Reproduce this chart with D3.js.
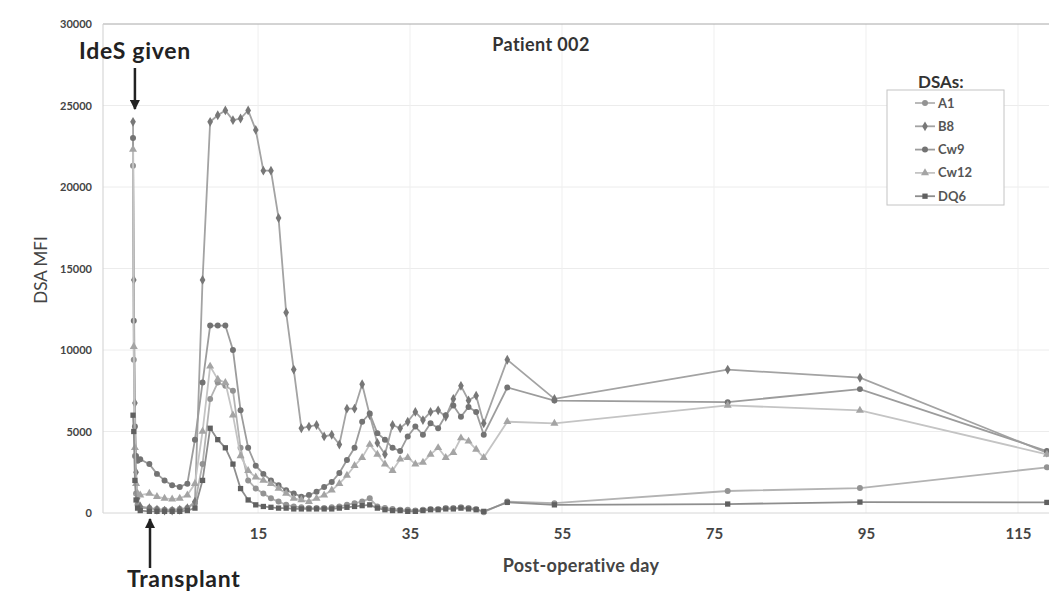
<!DOCTYPE html>
<html>
<head>
<meta charset="utf-8">
<script src="https://cdn.jsdelivr.net/npm/d3@7"></script>
<style>
  body { margin: 0; background: #fff; }
  svg { display: block; font-family: Lato, 'Open Sans', sans-serif; }
</style>
</head>
<body>
<svg id="chart" width="1049" height="598"></svg>
<script>
// sampling days (post-operative), shared by all DSAs
const days = [-1.45, -1.35, -1.2, -1.05, -0.85, -0.5,
  0.7, 1.7, 2.7, 3.7, 4.7, 5.7, 6.7, 7.7, 8.7, 9.7,
  10.7, 11.7, 12.7, 13.7, 14.7, 15.7, 16.7, 17.7, 18.7, 19.7,
  20.7, 21.7, 22.7, 23.7, 24.7, 25.7, 26.7, 27.7, 28.7, 29.7,
  30.7, 31.7, 32.7, 33.7, 34.7, 35.7, 36.7, 37.7, 38.7, 39.7,
  40.7, 41.7, 42.7, 43.7, 44.7,
  47.8, 54.0, 76.8, 94.2, 118.8];

const a1 = [21300, 9400, 3500, 1200, 500, 300,
  300, 250, 200, 200, 250, 300, 600, 3000, 7000, 8000,
  7800, 7500, 4000, 2000, 1500, 1200, 900, 700, 500, 400,
  350, 300, 300, 300, 350, 400, 500, 600, 700, 900,
  400, 300, 250, 200, 200, 150, 200, 250, 250, 300,
  300, 350, 300, 250, 50,
  700, 600, 1350, 1530, 2800];

const b8 = [24000, 14300, 6750, 2500, 900, 400,
  300, 200, 150, 150, 200, 300, 700, 14300, 24000, 24400,
  24700, 24100, 24200, 24700, 23500, 21000, 21000, 18100, 12300, 8800,
  5200, 5300, 5400, 4700, 4800, 4200, 6400, 6400, 7900, 6000,
  4300, 3600, 5400, 5200, 5600, 6200, 5700, 6200, 6300, 5900,
  7000, 7800, 6900, 7200, 5500,
  9400, 7000, 8800, 8300, 3700];

const cw9 = [23000, 11800, 5300, 3500, 3200, 3300,
  3000, 2400, 2000, 1700, 1600, 1800, 4500, 8000, 11500, 11500,
  11500, 10000, 6300, 4000, 2900, 2400, 2000, 1700, 1400, 1200,
  1000, 1100, 1300, 1600, 1900, 2450, 3250, 4000, 5600, 6100,
  4900, 4500, 4000, 3800, 4700, 5300, 4800, 5500, 5200, 6000,
  6600, 5900, 6500, 6200, 4800,
  7700, 6900, 6800, 7600, 3800];

const cw12 = [22300, 10200, 4000, 1800, 1200, 1100,
  1200, 1000, 900, 850, 900, 1100, 1800, 5000, 9000, 8200,
  8000, 6000, 3500, 2600, 2200, 2000, 1800, 1500, 1200, 900,
  800, 700, 900, 1100, 1400, 1800, 2300, 2900, 3400, 4200,
  3600, 3000, 2600, 3300, 3400, 3000, 3100, 3600, 4000, 3400,
  3700, 4600, 4400, 3900, 3400,
  5600, 5500, 6600, 6300, 3600];

const dq6 = [6000, 5000, 2000, 800, 300, 150,
  100, 100, 100, 100, 100, 150, 300, 2000, 5200, 4500,
  4000, 3000, 1500, 800, 500, 400, 350, 300, 300, 250,
  250, 250, 250, 250, 250, 300, 350, 400, 450, 500,
  300, 200, 150, 150, 100, 100, 150, 200, 200, 250,
  250, 300, 250, 200, 100,
  650, 500, 550, 670, 650];

const seriesNames = ['A1', 'B8', 'Cw9', 'Cw12', 'DQ6'];
const seriesValues = [a1, b8, cw9, cw12, dq6];
const xTicks = [15, 35, 55, 75, 95, 115];
const yTicks = [0, 5000, 10000, 15000, 20000, 25000, 30000];

// grey shades, one per DSA (line, marker, symbol)
const lineColors = ['#b3b3b3', '#a3a3a3', '#9c9c9c', '#c4c4c4', '#8e8e8e'];
const markColors = ['#939393', '#777', '#737373', '#a4a4a4', '#606060'];
const symbols = [d3.symbolCircle, d3.symbolDiamond, d3.symbolCircle, d3.symbolTriangle, d3.symbolSquare];

const svg = d3.select('#chart');

const x = d3.scaleLinear().domain([-5.4, 120]).range([103, 1056]);
const y = d3.scaleLinear().domain([0, 30000]).range([513, 24]);

const defs = svg.append('defs');
defs.append('marker')
  .attr('id', 'arrow')
  .attr('viewBox', '0 0 10 10')
  .attr('refX', 9).attr('refY', 5)
  .attr('markerWidth', 4).attr('markerHeight', 4)
  .attr('orient', 'auto-start-reverse')
  .append('path')
  .attr('d', 'M0,0 L10,5 L0,10 z')
  .attr('fill', '#222');

// gridlines
svg.append('g').selectAll('line').data(yTicks.slice(1, -1)).join('line')
  .attr('x1', x.range()[0]).attr('x2', 1049)
  .attr('y1', d => y(d)).attr('y2', d => y(d))
  .attr('stroke', '#ececec');
svg.append('g').selectAll('line').data(xTicks).join('line')
  .attr('x1', d => x(d)).attr('x2', d => x(d))
  .attr('y1', y(30000)).attr('y2', y(0))
  .attr('stroke', '#efefef');

// frame
svg.append('line').attr('x1', 103).attr('x2', 1049).attr('y1', y(30000)).attr('y2', y(30000))
  .attr('stroke', '#a8a8a8');
svg.append('line').attr('x1', 103).attr('x2', 103).attr('y1', y(30000)).attr('y2', y(0))
  .attr('stroke', '#cfcfcf');
svg.append('line').attr('x1', 103).attr('x2', 1049).attr('y1', y(0)).attr('y2', y(0))
  .attr('stroke', '#d6d6d6');

// axes
const yAxis = svg.append('g')
  .attr('transform', 'translate(92,0)')
  .call(d3.axisLeft(y).tickValues(yTicks).tickSize(0).tickPadding(0).tickFormat(d3.format('d')));
yAxis.select('.domain').remove();
yAxis.selectAll('text')
  .attr('font-family', 'Lato, sans-serif')
  .attr('font-size', 11)
  .attr('font-weight', 'bold')
  .attr('fill', '#444');

const xAxis = svg.append('g')
  .attr('transform', `translate(0,${y(0)})`)
  .call(d3.axisBottom(x).tickValues(xTicks).tickSize(0).tickPadding(15));
xAxis.select('.domain').remove();
xAxis.selectAll('text')
  .attr('font-family', 'Lato, sans-serif')
  .attr('font-size', 15)
  .attr('font-weight', 'bold')
  .attr('fill', '#444');

// series
const line = d3.line()
  .x(d => x(d[0]))
  .y(d => y(d[1]));

seriesNames.forEach((name, i) => {
  const pts = days.map((d, j) => [d, seriesValues[i][j]]);
  const g = svg.append('g').attr('class', 'series-' + name);
  g.append('path')
    .datum(pts)
    .attr('d', line)
    .attr('fill', 'none')
    .attr('stroke', lineColors[i])
    .attr('stroke-width', 1.8);
  g.selectAll('path.pt').data(pts).join('path')
    .attr('class', 'pt')
    .attr('transform', d => `translate(${x(d[0])},${y(d[1])})`)
    .attr('d', d3.symbol().type(symbols[i]).size(28))
    .attr('fill', markColors[i]);
});

// titles
svg.append('text')
  .attr('x', 541).attr('y', 51)
  .attr('text-anchor', 'middle')
  .attr('font-size', 18).attr('font-weight', 'bold')
  .attr('letter-spacing', 0.4)
  .attr('fill', '#333')
  .text('Patient 002');

svg.append('text')
  .attr('transform', 'translate(47,270) rotate(-90)')
  .attr('text-anchor', 'middle')
  .attr('font-size', 17)
  .attr('fill', '#444')
  .text('DSA MFI');

svg.append('text')
  .attr('x', 581).attr('y', 572)
  .attr('text-anchor', 'middle')
  .attr('font-size', 18).attr('font-weight', 'bold')
  .attr('letter-spacing', 0.3)
  .attr('fill', '#444')
  .text('Post-operative day');

// annotations
svg.append('text')
  .attr('x', 79).attr('y', 59)
  .attr('font-size', 23).attr('font-weight', 'bold')
  .attr('letter-spacing', 0.7)
  .attr('fill', '#222')
  .text('IdeS given');
svg.append('line')
  .attr('x1', x(-1.2)).attr('x2', x(-1.2))
  .attr('y1', 68).attr('y2', 109)
  .attr('stroke', '#222').attr('stroke-width', 2.5)
  .attr('marker-end', 'url(#arrow)');

svg.append('text')
  .attr('x', 127).attr('y', 587)
  .attr('font-size', 23).attr('font-weight', 'bold')
  .attr('letter-spacing', 0.7)
  .attr('fill', '#222')
  .text('Transplant');
svg.append('line')
  .attr('x1', 150).attr('x2', 150)
  .attr('y1', 568).attr('y2', 519)
  .attr('stroke', '#222').attr('stroke-width', 2.5)
  .attr('marker-end', 'url(#arrow)');

// legend
const legend = svg.append('g').attr('transform', 'translate(887,90)');
legend.append('rect')
  .attr('width', 117).attr('height', 115)
  .attr('fill', '#fff')
  .attr('stroke', '#c4c4c4');
legend.append('text')
  .attr('x', 31).attr('y', -2)
  .attr('font-size', 17).attr('font-weight', 'bold')
  .attr('fill', '#333')
  .text('DSAs:');
seriesNames.forEach((name, i) => {
  const row = legend.append('g').attr('transform', `translate(0,${13 + i * 23.3})`);
  row.append('line')
    .attr('x1', 28).attr('x2', 48)
    .attr('stroke', lineColors[i]).attr('stroke-width', 1.8);
  row.append('path')
    .attr('transform', 'translate(38,0)')
    .attr('d', d3.symbol().type(symbols[i]).size(28))
    .attr('fill', markColors[i]);
  row.append('text')
    .attr('x', 51).attr('y', 4.5)
    .attr('font-size', 13).attr('font-weight', 'bold')
    .attr('fill', '#555')
    .text(name);
});
</script>
</body>
</html>
